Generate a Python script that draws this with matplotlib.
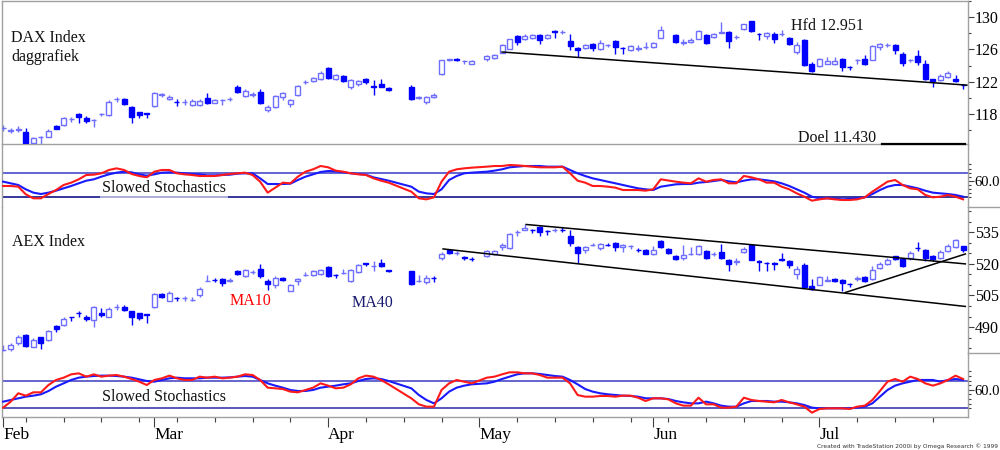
import numpy as np
import pandas as pd
import matplotlib
matplotlib.use('Agg')
import matplotlib.pyplot as plt
from matplotlib.lines import Line2D
from matplotlib.ticker import MultipleLocator, FixedLocator, FuncFormatter

plt.rcParams['font.family'] = ['Liberation Serif', 'DejaVu Serif']

# ---------------- data ----------------
start_date = '2017-02-01'
end_date = '2017-07-28'
month_names = ['Feb', 'Mar', 'Apr', 'May', 'Jun', 'Jul']

dax_open = [11626, 11597, 11612, 11585, 11441, 11515, 11523, 11659, 11663, 11741,
            11802, 11749, 11730, 11800, 11790, 11985, 11983, 11893, 11831, 11815,
            11901, 12040, 11983, 11956, 11952, 11909, 11909, 12003, 11942, 11977,
            11985, 12131, 12024, 12042, 12077, 11852, 11884, 12016, 11926, 12036,
            12198, 12209, 12233, 12373, 12241, 12270, 12131, 12168, 12237, 12145,
            12172, 12127, None, None, 12131, 12006, 11954, 12016, 12295, 12473,
            12477, 12453, 12426, None, 12487, 12500, 12561, 12611, 12762, 12734,
            12742, 12775, 12742, 12826, 12812, 12701, 12619, 12619, 12672, 12611,
            12650, 12701, 12621, 12590, 12609, 12629, 12631, 12746, None, 12783,
            12683, 12693, 12734, 12783, 12754, 12805, 12816, 12752, 12857, 12947,
            12797, 12766, 12787, 12793, 12742, 12570, 12721, 12426, 12397, 12426,
            12426, 12479, 12387, 12465, 12479, 12475, 12631, 12650, 12660, 12549,
            12465, 12516, 12426, 12233, 12229, 12262, 12233, 12161]
dax_high = [11667, 11626, 11655, 11634, 11523, 11532, 11614, 11667, 11770, 11770,
            11819, 11778, 11736, 11811, 11975, 12016, 11995, 11901, 11831, 11819,
            12073, 12065, 12044, 11983, 11983, 11991, 11991, 12057, 11983, 11983,
            12016, 12159, 12106, 12069, 12106, 11913, 12036, 12077, 11983, 12159,
            12221, 12262, 12332, 12385, 12295, 12282, 12233, 12229, 12254, 12221,
            12241, 12131, None, None, 12159, 12024, 12028, 12065, 12475, 12487,
            12496, 12475, 12467, None, 12529, 12549, 12672, 12734, 12775, 12795,
            12795, 12795, 12795, 12836, 12844, 12795, 12631, 12672, 12685, 12713,
            12672, 12721, 12631, 12652, 12652, 12693, 12693, 12885, None, 12795,
            12734, 12746, 12836, 12795, 12803, 12939, 12824, 12775, 12918, 12951,
            12803, 12816, 12816, 12844, 12754, 12693, 12734, 12446, 12496, 12508,
            12508, 12496, 12393, 12479, 12529, 12652, 12685, 12680, 12672, 12570,
            12487, 12590, 12467, 12233, 12295, 12336, 12282, 12172]
dax_low = [11593, 11573, 11585, 11445, 11433, 11437, 11515, 11614, 11655, 11708,
           11696, 11696, 11646, 11778, 11778, 11954, 11913, 11688, 11749, 11749,
           11893, 12016, 11975, 11901, 11913, 11901, 11901, 11926, 11934, 11913,
           11962, 12065, 12008, 12016, 11926, 11831, 11872, 11975, 11893, 12028,
           12180, 12200, 12221, 12241, 12229, 12200, 12118, 12147, 12172, 12036,
           12131, 12090, None, None, 11975, 11983, 11926, 11995, 12291, 12455,
           12455, 12426, 12418, None, 12459, 12487, 12557, 12602, 12660, 12713,
           12725, 12672, 12734, 12746, 12787, 12590, 12508, 12602, 12582, 12590,
           12631, 12549, 12541, 12582, 12582, 12602, 12623, 12742, None, 12680,
           12660, 12680, 12725, 12672, 12746, 12799, 12619, 12734, 12844, 12816,
           12721, 12725, 12685, 12762, 12660, 12541, 12397, 12323, 12385, 12418,
           12414, 12332, 12344, 12418, 12414, 12467, 12598, 12631, 12549, 12393,
           12446, 12405, 12229, 12139, 12213, 12254, 12200, 12106]
dax_close = [11630, 11600, 11616, 11450, 11503, 11518, 11597, 11622, 11749, 11745,
             11761, 11720, 11734, 11804, 11954, 11990, 11926, 11770, 11790, 11808,
             12065, 12046, 12016, 11952, 11956, 11962, 11962, 11942, 11975, 11981,
             11989, 12073, 12090, 12046, 11942, 11893, 12024, 12057, 11975, 12147,
             12202, 12250, 12315, 12250, 12282, 12209, 12221, 12217, 12196, 12141,
             12143, 12098, None, None, 11983, 12010, 12016, 12044, 12467, 12477,
             12473, 12457, 12455, None, 12516, 12537, 12660, 12725, 12693, 12762,
             12775, 12713, 12783, 12822, 12818, 12640, 12590, 12652, 12619, 12680,
             12654, 12631, 12617, 12640, 12613, 12633, 12680, 12836, None, 12693,
             12687, 12721, 12828, 12685, 12787, 12810, 12701, 12756, 12910, 12824,
             12793, 12803, 12734, 12797, 12672, 12652, 12405, 12332, 12479, 12455,
             12459, 12385, 12383, 12469, 12426, 12640, 12672, 12654, 12598, 12434,
             12469, 12446, 12233, 12209, 12270, 12311, 12209, 12157]

aex_open = [479.1, 479.5, 482.3, 486.3, 480.7, 485.2, 483.9, 490.6, 491.1, 494.8,
            496.7, 494.7, 493.4, 496.9, 495.0, 499.3, 499.3, 497.4, 496.6, 496.1,
            499.5, 505.7, 502.6, 503.8, 503.7, 502.9, 505.0, 512.0, 512.5, 513.0,
            512.1, 516.8, 514.1, 516.1, 517.7, 512.0, 510.1, 513.3, 507.2, 511.7,
            514.8, 514.5, 515.2, 518.4, 514.6, 515.6, 511.7, 516.0, 520.2, 519.1,
            520.4, 517.2, None, None, 516.5, 511.9, 511.2, 513.4, 522.8, 526.8,
            525.1, 523.2, 522.4, None, 523.6, 524.7, 528.0, 527.6, 535.1, 536.0,
            536.0, 537.6, 535.5, 536.2, 536.3, 533.4, 527.9, 526.4, 529.1, 527.6,
            529.2, 529.9, 527.9, 528.3, 526.5, 526.8, 524.7, 530.7, 527.1, 523.9,
            522.8, 524.6, 524.9, 526.0, 524.6, 525.5, 522.0, 521.1, 525.7, 528.8,
            521.3, 520.5, 520.2, 522.5, 521.2, 515.3, 519.6, 509.3, 510.1, 512.1,
            513.0, 512.2, 510.6, 513.0, 513.6, 513.0, 518.0, 520.0, 523.6, 522.3,
            522.8, 527.6, 526.5, 523.6, 522.8, 526.0, 528.0, 528.4]
aex_high = [481.5, 482.6, 486.3, 486.8, 484.7, 485.5, 488.7, 491.1, 495.0, 495.0,
            497.4, 495.8, 500.1, 499.0, 499.3, 500.9, 500.6, 497.7, 496.9, 496.3,
            506.1, 506.1, 506.9, 504.2, 504.9, 504.2, 508.8, 514.9, 513.3, 513.3,
            513.3, 517.2, 517.6, 517.2, 519.9, 512.8, 514.1, 513.6, 510.6, 513.3,
            516.1, 517.2, 517.7, 518.8, 515.2, 517.6, 517.6, 520.1, 520.4, 521.2,
            522.3, 517.3, None, None, 516.8, 514.9, 514.5, 514.1, 525.5, 527.1,
            526.0, 523.6, 523.3, None, 526.8, 526.8, 529.9, 534.7, 536.3, 538.7,
            536.6, 538.2, 536.0, 537.1, 537.6, 536.0, 528.4, 528.4, 529.9, 529.9,
            529.9, 530.3, 529.5, 529.1, 527.6, 527.1, 528.4, 531.5, 527.6, 524.4,
            529.1, 527.9, 528.8, 526.5, 525.5, 529.5, 522.3, 522.8, 527.9, 529.5,
            522.0, 520.7, 520.7, 525.2, 521.7, 518.8, 520.4, 513.0, 514.1, 514.4,
            513.3, 512.8, 510.9, 514.1, 514.1, 519.1, 520.7, 522.8, 523.9, 522.8,
            526.0, 530.4, 527.1, 524.1, 526.8, 529.5, 531.8, 528.7]
aex_low = [478.8, 478.8, 481.5, 480.7, 480.4, 479.5, 483.4, 487.9, 490.7, 493.0,
           495.0, 493.1, 489.9, 495.0, 494.7, 498.2, 497.4, 491.1, 493.4, 491.8,
           499.0, 503.7, 502.2, 502.2, 502.2, 502.5, 504.5, 511.7, 511.4, 509.3,
           511.5, 514.9, 513.8, 515.2, 513.3, 507.7, 508.5, 511.7, 506.9, 510.1,
           514.1, 514.1, 514.9, 513.8, 513.3, 515.2, 511.4, 515.7, 518.8, 516.5,
           518.4, 516.0, None, None, 510.1, 511.2, 510.6, 511.2, 522.0, 524.7,
           524.4, 522.0, 521.2, None, 523.1, 524.4, 526.8, 527.2, 533.1, 536.0,
           534.7, 533.4, 533.9, 535.0, 535.0, 528.4, 520.4, 525.2, 528.4, 526.8,
           528.4, 526.0, 525.7, 527.2, 525.5, 524.7, 524.4, 527.6, 524.9, 522.0,
           522.0, 524.1, 524.4, 522.5, 523.9, 522.5, 516.5, 519.6, 525.2, 521.7,
           516.5, 516.5, 517.2, 521.2, 518.0, 512.8, 508.5, 507.7, 509.8, 511.7,
           511.2, 506.9, 509.0, 511.7, 511.2, 512.5, 517.6, 519.6, 522.0, 518.5,
           522.0, 526.0, 521.2, 521.2, 522.5, 525.7, 527.6, 525.7]
aex_close = [479.2, 481.5, 485.5, 481.0, 483.9, 482.6, 488.3, 489.1, 493.9, 494.6,
             496.5, 493.7, 499.5, 495.8, 498.7, 499.5, 497.9, 495.0, 494.2, 495.9,
             505.8, 504.1, 506.4, 503.7, 503.8, 503.0, 508.2, 512.1, 512.4, 510.9,
             512.2, 515.3, 517.2, 516.2, 514.1, 510.6, 513.3, 512.2, 510.1, 512.8,
             514.9, 516.8, 517.2, 514.1, 514.5, 515.7, 517.2, 519.6, 520.0, 519.2,
             518.8, 516.5, None, None, 510.6, 512.1, 513.3, 513.2, 524.9, 525.2,
             525.3, 523.0, 522.2, None, 526.3, 526.3, 529.1, 534.4, 535.2, 537.1,
             535.9, 535.0, 535.4, 536.3, 536.2, 529.9, 525.2, 527.9, 529.2, 529.5,
             529.1, 528.0, 529.1, 528.4, 526.4, 524.9, 526.8, 527.9, 525.2, 522.5,
             524.4, 524.8, 528.4, 522.8, 524.8, 522.8, 519.9, 521.3, 527.1, 522.0,
             521.1, 520.3, 520.0, 521.7, 519.6, 517.6, 508.8, 508.0, 513.6, 512.2,
             511.7, 510.9, 510.5, 513.1, 511.7, 517.2, 520.1, 522.0, 522.3, 518.8,
             525.2, 527.4, 522.8, 522.5, 525.5, 528.7, 531.2, 526.5]

dax_stoch_k = [47.6, 47.6, 45.9, 27.3, 17.6, 17.6, 28.1, 37.8, 50.0, 55.7,
               63.8, 74.3, 75.1, 78.4, 86.5, 90.5, 86.5, 76.8, 71.9, 68.6,
               82.4, 86.5, 86.5, 78.4, 75.9, 74.3, 71.9, 71.9, 71.9, 74.3,
               76.8, 78.4, 80.0, 74.3, 58.1, 31.4, 43.5, 55.7, 54.1, 70.3,
               82.4, 88.1, 96.2, 93.0, 84.9, 82.4, 78.4, 75.9, 74.3, 66.2,
               60.5, 55.7, None, None, 33.8, 17.6, 15.1, 20.0, 58.1, 82.4,
               88.1, 90.5, 92.2, None, 94.6, 96.2, 96.2, 98.6, 97.8, 96.2,
               94.6, 93.0, 93.0, 93.0, 94.6, 78.4, 60.5, 55.7, 47.6, 47.6,
               45.9, 43.5, 37.8, 37.8, 37.8, 36.2, 39.5, 63.8, None, 58.1,
               55.7, 54.1, 66.2, 58.1, 62.2, 63.8, 54.1, 54.1, 71.9, 68.6,
               63.8, 55.7, 55.7, 45.9, 39.5, 29.7, 21.6, 11.9, 15.1, 17.6,
               15.1, 13.5, 13.5, 15.1, 20.0, 33.8, 45.9, 58.1, 62.2, 50.0,
               41.9, 39.5, 25.7, 20.0, 21.6, 25.7, 21.6, 15.1]
dax_stoch_d = [58.1, 54.1, 50.0, 39.5, 31.4, 28.1, 31.4, 36.2, 41.9, 47.6,
               54.1, 60.5, 63.8, 70.3, 75.9, 80.0, 82.4, 80.8, 75.9, 72.7,
               75.9, 80.0, 80.8, 80.0, 78.4, 76.8, 75.9, 73.5, 73.5, 74.3,
               75.1, 77.6, 78.4, 78.4, 66.2, 52.4, 52.4, 52.4, 53.2, 62.2,
               70.3, 75.9, 81.6, 84.1, 83.3, 80.8, 78.4, 76.8, 75.1, 68.6,
               64.6, 60.5, None, None, 45.9, 33.8, 29.7, 28.1, 39.5, 62.2,
               71.9, 78.4, 80.0, None, 82.4, 84.9, 88.1, 93.0, 94.6, 96.2,
               96.2, 96.2, 94.6, 94.6, 94.6, 86.5, 78.4, 71.9, 66.2, 62.2,
               58.1, 54.1, 50.0, 45.9, 41.9, 39.5, 37.8, 45.9, None, 51.6,
               52.4, 52.4, 55.7, 57.3, 59.7, 62.2, 58.9, 56.5, 60.5, 63.8,
               63.8, 61.4, 58.9, 54.1, 47.6, 39.5, 31.4, 21.6, 17.6, 17.6,
               16.8, 15.1, 16.0, 17.6, 20.0, 28.1, 37.8, 45.9, 50.0, 50.0,
               45.9, 41.9, 36.2, 31.4, 29.7, 28.1, 25.7, 21.6]
aex_stoch_k = [21.5, 34.5, 52.6, 47.5, 54.7, 54.7, 70.6, 81.5, 86.5, 93.7,
               95.9, 88.7, 93.7, 88.7, 90.9, 92.3, 88.7, 83.6, 77.8, 70.6,
               81.5, 85.1, 90.9, 85.1, 81.5, 81.5, 88.7, 86.5, 88.7, 85.1,
               86.5, 88.7, 93.7, 92.3, 81.5, 64.8, 63.4, 61.9, 56.2, 54.7,
               59.8, 64.8, 74.2, 69.2, 63.4, 64.8, 72.1, 85.1, 90.9, 88.7,
               81.5, 72.1, None, None, 41.7, 28.7, 23.6, 23.6, 59.8, 74.2,
               81.5, 77.8, 74.2, None, 86.5, 88.7, 93.7, 98.1, 98.1, 95.9,
               95.9, 92.3, 86.5, 86.5, 86.5, 74.2, 48.9, 45.3, 45.3, 46.8,
               46.8, 45.3, 47.5, 47.5, 43.1, 35.9, 41.7, 41.7, 39.5, 30.8,
               25.8, 25.8, 43.1, 28.7, 28.7, 21.5, 21.5, 23.6, 43.1, 38.1,
               35.9, 34.5, 33.0, 38.1, 33.0, 28.7, 23.6, 10.6, 18.6, 20.0,
               20.0, 20.0, 18.6, 23.6, 25.8, 38.1, 57.6, 77.8, 83.6, 77.8,
               88.7, 83.6, 74.2, 69.2, 74.2, 81.5, 90.9, 83.6]
aex_stoch_d = [34.5, 38.1, 41.7, 45.3, 47.5, 50.4, 57.6, 67.0, 74.2, 81.5,
               86.5, 88.7, 90.1, 90.9, 90.9, 90.1, 88.7, 86.5, 82.9, 79.3,
               77.8, 81.5, 85.1, 86.5, 85.1, 85.1, 85.1, 86.5, 86.5, 86.5,
               87.2, 88.7, 90.1, 88.7, 81.5, 74.2, 69.2, 64.8, 59.8, 57.6,
               57.6, 59.8, 64.8, 67.0, 69.2, 72.1, 74.2, 79.3, 83.6, 85.1,
               83.6, 79.3, None, None, 63.4, 48.9, 38.1, 30.8, 41.7, 56.2,
               64.8, 69.2, 72.1, None, 74.2, 77.8, 83.6, 88.7, 93.7, 95.9,
               95.9, 94.5, 92.3, 90.1, 88.7, 81.5, 72.1, 61.9, 56.2, 52.6,
               50.4, 48.9, 47.5, 46.8, 45.3, 41.7, 41.7, 41.7, 40.2, 35.9,
               33.0, 30.8, 30.8, 34.5, 30.8, 25.8, 23.6, 23.6, 30.8, 35.9,
               35.9, 35.9, 34.5, 34.5, 33.0, 30.8, 27.2, 21.5, 20.0, 20.0,
               20.0, 20.0, 20.0, 21.5, 23.6, 30.8, 45.3, 59.8, 69.2, 74.2,
               77.8, 81.5, 81.5, 81.5, 77.8, 81.5, 83.6, 81.5]

stoch_levels = [20, 80]
dax_trend_x, dax_trend_y = [66.0, 127.5], [12569, 12160]
doel_x, doel_level = [116.3, 127.3], 11430
aex_top_x, aex_top_y = [69.2, 127.3], [538.7, 520.0]
aex_bot_x, aex_bot_y = [58.2, 127.3], [527.1, 499.8]
aex_up_x, aex_up_y = [111.4, 127.3], [506.4, 524.7]


def arr(v):
    return np.array([np.nan if a is None else a for a in v], dtype=float)


dates = pd.bdate_range(start_date, end_date)
x = np.arange(len(dates))

# ---------------- figure ----------------
W, H = 1000, 450
fig = plt.figure(figsize=(10, 4.5), dpi=100)
fig.patch.set_facecolor('white')

RIGHT = 968


def rect(x0, y0, x1, y1):
    return [x0 / W, 1 - y1 / H, (x1 - x0) / W, (y1 - y0) / H]


ax_dax = fig.add_axes(rect(2, 0.5, RIGHT, 144))
ax_s1 = fig.add_axes(rect(2, 144, RIGHT, 207))
ax_aex = fig.add_axes(rect(2, 207, RIGHT, 353))
ax_s2 = fig.add_axes(rect(2, 353, RIGHT, 417))
axes = [ax_dax, ax_s1, ax_aex, ax_s2]

UP = '#6e6eff'
DN = '#0000ff'


def candles(ax, o, h, l, c):
    o, h, l, c = arr(o), arr(h), arr(l), arr(c)
    ok = ~np.isnan(o)
    up = ok & (c >= o)
    dn = ok & (c < o)
    for m, col, face in ((up, UP, 'white'), (dn, DN, DN)):
        ax.vlines(x[m], l[m], h[m], color=col, lw=1.0, zorder=2)
        ax.bar(x[m], np.abs(c - o)[m], bottom=np.minimum(o, c)[m], width=0.66,
               color=face, edgecolor=col, linewidth=1.0, zorder=3)


def stoch(ax, k, d, lev_colors):
    k, d = arr(k), arr(d)
    mk = ~np.isnan(k)
    md = ~np.isnan(d)
    for lev, col in zip(stoch_levels, lev_colors):
        ax.axhline(lev, color=col, lw=1.1, zorder=1)
    ax.plot(x[md], d[md], color='#1a1aff', lw=1.5, zorder=3)
    ax.plot(x[mk], k[mk], color='#ff1a1a', lw=1.5, zorder=4)


candles(ax_dax, dax_open, dax_high, dax_low, dax_close)
candles(ax_aex, aex_open, aex_high, aex_low, aex_close)
stoch(ax_s1, dax_stoch_k, dax_stoch_d, ['#000080', '#3a3ac8'])
stoch(ax_s2, aex_stoch_k, aex_stoch_d, ['#2a2aa8', '#3a3ac0'])

ax_dax.plot(dax_trend_x, dax_trend_y, color='black', lw=1.1, zorder=5)
ax_dax.plot(doel_x, [doel_level, doel_level], color='black', lw=1.6, zorder=5, clip_on=False)
ax_aex.plot(aex_top_x, aex_top_y, color='black', lw=1.1, zorder=5)
ax_aex.plot(aex_bot_x, aex_bot_y, color='black', lw=1.1, zorder=5)
ax_aex.plot(aex_up_x, aex_up_y, color='black', lw=1.1, zorder=5)

ax_dax.set_ylim(11433, 13205)
ax_aex.set_ylim(477.7, 547.0)
ax_s1.set_ylim(-3.5, 149.7)
ax_s2.set_ylim(1.2, 140.0)

SP = '#a0a0a0'
for ax in axes:
    ax.set_xlim(-0.15, 127.65)
    ax.set_facecolor('none')
    for s in ax.spines.values():
        s.set_color(SP)
        s.set_linewidth(1.0)
    ax.spines['top'].set_visible(False)
    ax.spines['bottom'].set_visible(False)
    ax.yaxis.tick_right()
    ax.tick_params(axis='y', which='major', direction='out', length=4, width=0.8,
                   color='#404040', labelsize=11.5, pad=1)
    ax.tick_params(axis='y', which='minor', direction='out', length=2.5, width=0.8,
                   color='#404040')
    ax.tick_params(axis='x', which='both', bottom=False, top=False, labelbottom=False)

ax_dax.spines['top'].set_visible(True)
ax_dax.spines['bottom'].set_visible(True)
ax_s2.spines['bottom'].set_visible(True)

# panel separators to the right of the price scale
for py in (207, 353):
    fig.add_artist(Line2D([RIGHT / W, 1.0], [1 - py / H, 1 - py / H],
                          color=SP, lw=1.0, transform=fig.transFigure))

ax_dax.yaxis.set_major_locator(MultipleLocator(400, offset=200))
ax_dax.yaxis.set_minor_locator(MultipleLocator(200))
ax_dax.yaxis.set_major_formatter(FuncFormatter(lambda v, p: f"{v / 100:.0f}"))

ax_aex.yaxis.set_major_locator(MultipleLocator(15, offset=10))
ax_aex.yaxis.set_minor_locator(MultipleLocator(5))
ax_aex.yaxis.set_major_formatter(FuncFormatter(lambda v, p: f"{v:.0f}"))

for ax in (ax_s1, ax_s2):
    ax.yaxis.set_major_locator(FixedLocator([60]))
    ax.yaxis.set_minor_locator(FixedLocator(np.arange(20, 101, 10)))
    ax.yaxis.set_major_formatter(FuncFormatter(lambda v, p: f"{v:.1f}"))
    ax.tick_params(axis='y', which='major', labelsize=10.5, pad=0.5)

# x axis (bottom panel)
ser = pd.Series(x, index=dates)
month_pos = ser.groupby(dates.to_period('M')).first().values
monday_pos = x[dates.dayofweek == 0]
ax_s2.xaxis.set_major_locator(FixedLocator(month_pos))
ax_s2.xaxis.set_minor_locator(FixedLocator(monday_pos))
ax_s2.set_xticklabels(month_names[:len(month_pos)])
ax_s2.tick_params(axis='x', which='major', bottom=True, labelbottom=True, direction='out',
                  length=7.5, width=0.8, color='#404040', labelsize=12.5, pad=0)
ax_s2.tick_params(axis='x', which='minor', bottom=True, direction='out',
                  length=3.5, width=0.8, color='#404040')
for lab in ax_s2.get_xticklabels():
    lab.set_horizontalalignment('left')


def ftext(px, py, s, **kw):
    fig.text(px / W, 1 - py / H, s, va='center', **kw)


ftext(11, 38, 'DAX Index', fontsize=11.5, color='#111111')
ftext(11, 57, 'daggrafiek', fontsize=11.5, color='#111111')
ftext(791, 26, 'Hfd 12.951', fontsize=11.5, color='#111111')
ftext(798, 138, 'Doel 11.430', fontsize=11.5, color='#111111')
ftext(102, 188, 'Slowed Stochastics', fontsize=11.5, color='#111111', zorder=10,
      bbox=dict(facecolor='white', edgecolor='none', alpha=0.6, pad=1.5))
ftext(12, 242, 'AEX Index', fontsize=11.5, color='#111111')
ftext(230, 301, 'MA10', fontsize=11.5, color='#ff0000')
ftext(352, 303, 'MA40', fontsize=11.5, color='#1a1a6e')
ftext(102, 397, 'Slowed Stochastics', fontsize=11.5, color='#111111')
fig.text(998 / W, 1 - 446 / H, 'Created with TradeStation 2000i by Omega Research \u00a9 1999',
         ha='right', va='center', fontsize=4.2, family='DejaVu Sans', color='#333333')

fig.savefig('out.png', dpi=100, facecolor='white')
